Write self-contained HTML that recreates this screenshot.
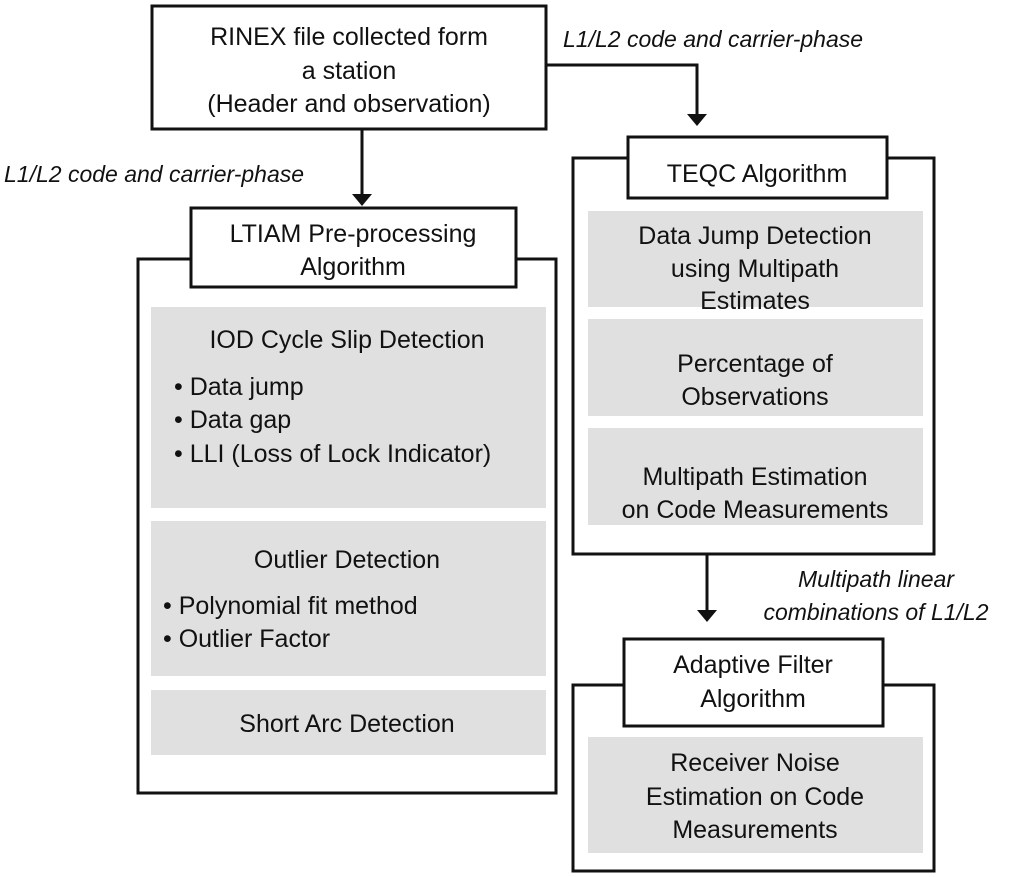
<!DOCTYPE html>
<html><head><meta charset="utf-8"><style>
html,body{margin:0;padding:0;background:#fff;}
svg{display:block;}
text{font-family:"Liberation Sans",sans-serif;font-size:25px;fill:#111;}
.c{text-anchor:middle;}
.i{font-style:italic;}
</style></head><body>
<svg width="1024" height="877" viewBox="0 0 1024 877" xmlns="http://www.w3.org/2000/svg">
<g fill="none" stroke="#111" stroke-width="3">
<!-- left outer -->
<rect x="138" y="259" width="418" height="534" fill="#fff"/>
<!-- right outer -->
<rect x="573" y="158" width="361" height="396" fill="#fff"/>
<rect x="573" y="685" width="361" height="186" fill="#fff"/>
<!-- connectors -->
<line x1="362" y1="129" x2="362" y2="196"/>
<polyline points="546,65 697,65 697,116"/>
<line x1="707" y1="554" x2="707" y2="612"/>
</g>
<g fill="#111">
<polygon points="352,194 372,194 362,206"/>
<polygon points="687,114 707,114 697,126"/>
<polygon points="697,610 717,610 707,622"/>
</g>
<!-- gray boxes -->
<g fill="#e0e0e0">
<rect x="151" y="307" width="395" height="201"/>
<rect x="151" y="521" width="395" height="155"/>
<rect x="151" y="690" width="395" height="65"/>
<rect x="588" y="211" width="335" height="96"/>
<rect x="588" y="319" width="335" height="97"/>
<rect x="588" y="428" width="335" height="97"/>
<rect x="588" y="737" width="335" height="116"/>
</g>
<!-- title boxes -->
<g fill="#fff" stroke="#111" stroke-width="3">
<rect x="152" y="6" width="394" height="123"/>
<rect x="191" y="208" width="325" height="79"/>
<rect x="628" y="137" width="259" height="61"/>
<rect x="624" y="639" width="259" height="87"/>
</g>
<text class="c" x="349" y="45">RINEX file collected form</text>
<text class="c" x="349" y="79">a station</text>
<text class="c" x="349" y="112">(Header and observation)</text>
<text class="c" x="353" y="242">LTIAM Pre-processing</text>
<text class="c" x="353" y="275">Algorithm</text>
<text class="c" x="757" y="182">TEQC Algorithm</text>
<text class="c" x="753" y="673">Adaptive Filter</text>
<text class="c" x="753" y="707">Algorithm</text>

<text class="i" x="563" y="47" style="font-size:23px">L1/L2 code and carrier-phase</text>
<text class="i" x="4" y="182" style="font-size:23px">L1/L2 code and carrier-phase</text>
<text class="i c" x="876" y="587" style="font-size:23px">Multipath linear</text>
<text class="i c" x="876" y="620" style="font-size:23px">combinations of L1/L2</text>

<text class="c" x="347" y="348">IOD Cycle Slip Detection</text>
<text x="174" y="395">• Data jump</text>
<text x="174" y="428">• Data gap</text>
<text x="174" y="462">• LLI (Loss of Lock Indicator)</text>
<text class="c" x="347" y="568">Outlier Detection</text>
<text x="163" y="614">• Polynomial fit method</text>
<text x="163" y="647">• Outlier Factor</text>
<text class="c" x="347" y="732">Short Arc Detection</text>

<text class="c" x="755" y="244">Data Jump Detection</text>
<text class="c" x="755" y="277">using Multipath</text>
<text class="c" x="755" y="309">Estimates</text>
<text class="c" x="755" y="372">Percentage of</text>
<text class="c" x="755" y="405">Observations</text>
<text class="c" x="755" y="485">Multipath Estimation</text>
<text class="c" x="755" y="518">on Code Measurements</text>
<text class="c" x="755" y="771">Receiver Noise</text>
<text class="c" x="755" y="805">Estimation on Code</text>
<text class="c" x="755" y="838">Measurements</text>
</svg>
</body></html>
